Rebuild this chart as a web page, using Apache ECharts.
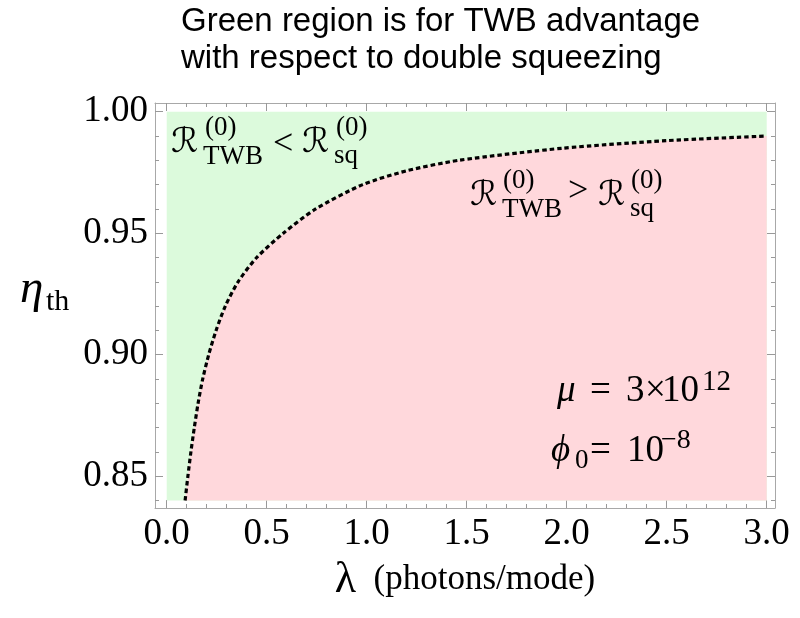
<!DOCTYPE html>
<html>
<head>
<meta charset="utf-8">
<script src="https://cdn.jsdelivr.net/npm/echarts@6/dist/echarts.min.js"></script>
<style>
html,body{margin:0;padding:0;background:#fff;}
#chart{width:800px;height:618px;}
</style>
</head>
<body>
<div id="chart"></div>
<script>
// ---- data ----
const lambdaVals = [0.092, 0.106, 0.121, 0.138, 0.157, 0.180, 0.210, 0.247, 0.293, 0.357, 0.450, 0.583, 0.745, 0.98, 1.2, 1.46, 1.98, 2.5, 3.0];
const etaVals    = [0.840, 0.850, 0.860, 0.870, 0.880, 0.890, 0.900, 0.910, 0.920, 0.930, 0.940, 0.950, 0.960, 0.970, 0.9757, 0.980, 0.985, 0.9881, 0.990];
const regionX = [0, 3];
const regionY = [0.84, 1.0];
const xTickLabels = [0, 0.5, 1.0, 1.5, 2.0, 2.5, 3.0];
const xMinorTicks = [0.1,0.2,0.3,0.4,0.6,0.7,0.8,0.9,1.1,1.2,1.3,1.4,1.6,1.7,1.8,1.9,2.1,2.2,2.3,2.4,2.6,2.7,2.8,2.9];
const yTickLabels = [0.85, 0.90, 0.95, 1.00];
const yMinorTicks = [0.84,0.86,0.87,0.88,0.89,0.91,0.92,0.93,0.94,0.96,0.97,0.98,0.99];
const xRange = [-0.0585, 3.0415];
const yRange = [0.8369, 1.0036];
const titleText = 'Green region is for TWB advantage\nwith respect to double squeezing';

const curveData = lambdaVals.map((l, i) => [l, etaVals[i]]);
const greenData = regionX.map(x => [x, regionY[1]]);

const SERIF = '"Liberation Serif", "Times New Roman", serif';
const FRAME = '#a8a8a8';
const TICK = '#999999';

function xAx(position, ticks, len, showLine, showLabel) {
  return {
    type: 'value', position: position, min: xRange[0], max: xRange[1],
    axisLine: {show: showLine, onZero: false, lineStyle: {color: FRAME, width: 1}},
    axisTick: {show: true, inside: true, length: len, customValues: ticks, lineStyle: {color: TICK, width: 1}},
    axisLabel: showLabel ? {show: true, customValues: ticks, formatter: v => v.toFixed(1), fontFamily: SERIF, fontSize: 37, color: '#000', margin: 8} : {show: false},
    splitLine: {show: false}, minorTick: {show: false}
  };
}
function yAx(position, ticks, len, showLine, showLabel) {
  return {
    type: 'value', position: position, min: yRange[0], max: yRange[1],
    axisLine: {show: showLine, onZero: false, lineStyle: {color: FRAME, width: 1}},
    axisTick: {show: true, inside: true, length: len, customValues: ticks, lineStyle: {color: TICK, width: 1}},
    axisLabel: showLabel ? {show: true, customValues: ticks, formatter: v => v.toFixed(2), fontFamily: SERIF, fontSize: 37, color: '#000', margin: 7} : {show: false},
    splitLine: {show: false}, minorTick: {show: false}
  };
}

const xMain = xAx('bottom', xTickLabels, 8, true, true);
xMain.name = '{l|λ}{t|  (photons/mode)}';
xMain.nameLocation = 'middle';
xMain.nameGap = 50;
xMain.nameMoveOverlap = false;
xMain.nameTextStyle = {
  rich: {
    l: {fontFamily: SERIF, fontSize: 44, color: '#000'},
    t: {fontFamily: SERIF, fontSize: 35, color: '#000'}
  }
};

function txt(text, x, y, size, opts) {
  opts = opts || {};
  return {
    type: 'text', x: x, y: y, silent: true, z: 100,
    style: {
      text: text,
      fontFamily: opts.family || SERIF,
      fontSize: size,
      fontStyle: opts.italic ? 'italic' : 'normal',
      fill: '#000',
      align: 'left', verticalAlign: 'middle',
      textAlign: 'left', textVerticalAlign: 'middle'
    }
  };
}
const SCR = '"DejaVu Serif", "DejaVu Sans", serif';
// baseline ≈ y + 0.34*size
const graphics = [
  // y-axis title
  txt('η', 20, 289.5, 47, {italic: true}),
  txt('th', 46, 302.5, 30),
  // annotation 1
  txt('ℛ', 171, 143, 34, {family: SCR, italic: true}),
  txt('(0)', 205, 128, 27),
  txt('TWB', 203, 156.5, 27),
  txt('<', 273, 144.3, 36),
  txt('ℛ', 302, 143, 34, {family: SCR, italic: true}),
  txt('(0)', 336, 128, 27),
  txt('sq', 334, 156, 27),
  // annotation 2
  txt('ℛ', 470, 196, 34, {family: SCR, italic: true}),
  txt('(0)', 503, 181, 27),
  txt('TWB', 502, 209.5, 27),
  txt('>', 568, 192, 36),
  txt('ℛ', 598, 196, 34, {family: SCR, italic: true}),
  txt('(0)', 631, 181, 27),
  txt('sq', 630, 209, 27),
  // mu line
  txt('μ', 557, 390.8, 37, {italic: true}),
  txt('=', 590, 390.8, 37),
  txt('3', 626, 390.8, 37),
  txt('×', 645, 390.8, 37),
  txt('10', 662, 390.8, 37),
  txt('12', 702, 382, 29),
  // phi line
  txt('ϕ', 551, 450.8, 37, {italic: true}),
  txt('0', 575, 461, 27),
  txt('=', 590, 450.8, 37),
  txt('10', 627, 450.8, 37),
  txt('−8', 661, 441, 28)
];

const chart = echarts.init(document.getElementById('chart'), null, {renderer: 'canvas'});
chart.setOption({
  animation: false,
  backgroundColor: '#ffffff',
  title: {
    text: titleText, left: 181, top: 3.4, padding: 0,
    textStyle: {fontFamily: '"Liberation Sans", Arial, sans-serif', fontSize: 33, lineHeight: 37, fontWeight: 'normal', color: '#000'}
  },
  grid: {left: 155, right: 25, top: 103, bottom: 110, containLabel: false, outerBoundsMode: 'none'},
  xAxis: [
    xMain,
    xAx('bottom', xMinorTicks, 4, false, false),
    xAx('top', xTickLabels, 8, true, false),
    xAx('top', xMinorTicks, 4, false, false)
  ],
  yAxis: [
    yAx('left', yTickLabels, 8, true, true),
    yAx('left', yMinorTicks, 4, false, false),
    yAx('right', yTickLabels, 8, true, false),
    yAx('right', yMinorTicks, 4, false, false)
  ],
  series: [
    {
      type: 'line', name: 'green', xAxisIndex: 0, yAxisIndex: 0,
      data: greenData, symbol: 'none', silent: true, z: 1,
      lineStyle: {width: 0, opacity: 0},
      areaStyle: {color: '#dcfadc', opacity: 1, origin: regionY[0]}
    },
    {
      type: 'line', name: 'boundary', xAxisIndex: 0, yAxisIndex: 0,
      data: curveData, symbol: 'none', silent: true, z: 2,
      smooth: 0.25,
      lineStyle: {color: '#000', width: 3.2, type: [4.5, 3], cap: 'butt'},
      areaStyle: {color: '#ffd8dc', opacity: 1, origin: regionY[0]}
    }
  ],
  graphic: graphics
});
</script>
</body>
</html>
